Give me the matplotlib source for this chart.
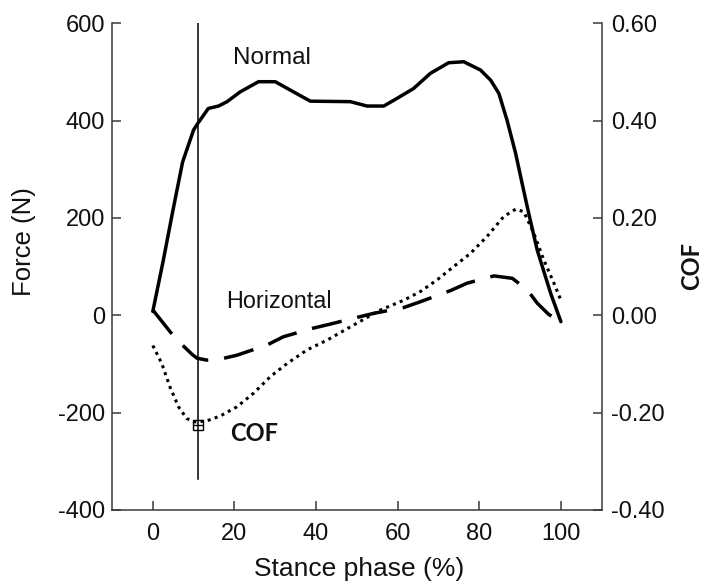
import matplotlib
matplotlib.use("Agg")
import matplotlib.pyplot as plt

plt.rcParams['font.family'] = ['Liberation Sans', 'DejaVu Sans']
plt.rcParams['axes.unicode_minus'] = False

# Normal force (N)
normal_x = [0, 2.5, 4.8, 7.3, 10, 11, 13.6, 16.1, 18.2, 21.4, 25.9, 30, 34.5, 38.6,
            48.4, 52.5, 56.6, 59.9, 63.9, 68, 72.5, 76.2, 80.3, 82.8, 84.8, 86.8,
            88.9, 90.5, 92.1, 94.2, 97.5, 100]
normal_y = [8, 110, 210, 315, 381, 394, 425, 430, 439, 459, 480, 480, 459, 440,
            439, 430, 430, 446, 466, 497, 519, 521, 504, 483, 456, 401,
            333, 271, 210, 134, 45, -13]

# Horizontal force (N)
horiz_x = [0, 5.5, 9.6, 10.8, 13.2, 16.5, 20.6, 28, 32, 39, 43.5, 49.2, 54.1,
           61.5, 65.6, 73, 77, 83.6, 88.1, 91.8, 94.2, 97, 100]
horiz_y = [11, -47, -80, -88, -92, -90, -82, -61, -44, -27, -18, -6, 4,
           16, 28, 51, 66, 81, 76, 52, 25, 2, -13]

# Coefficient of friction
cof_x = [0, 2.2, 4.2, 6.3, 8.3, 10.4, 13.2, 16.5, 20.6, 24.7, 28.8, 32.9, 37.8,
         42.7, 49.2, 55.8, 61.5, 65.6, 69.7, 73.7, 77.8, 81.9, 86, 88.9, 90.9,
         93.4, 95.8, 98.3, 100]
cof_y = [-0.062, -0.099, -0.147, -0.188, -0.212, -0.219, -0.217, -0.207, -0.188,
         -0.160, -0.126, -0.099, -0.071, -0.051, -0.020, 0.011, 0.031, 0.049,
         0.073, 0.100, 0.127, 0.162, 0.203, 0.218, 0.213, 0.168, 0.114, 0.066, 0.031]

vline_x = 11
vline_y = [-336, 600]
cof_mark_x = 11
cof_mark_y = -0.225

force_ticks = [-400, -200, 0, 200, 400, 600]
cof_ticks = [-0.40, -0.20, 0.00, 0.20, 0.40, 0.60]
cof_tick_labels = ['-0.40', '-0.20', '0.00', '0.20', '0.40', '0.60']
x_ticks = [0, 20, 40, 60, 80, 100]

W, H = 702, 582
fig = plt.figure(figsize=(W / 100, H / 100), dpi=100)
left, right, bottom, top = 112 / W, 601.7 / W, 1 - 510 / H, 1 - 23.3 / H
ax = fig.add_axes([left, bottom, right - left, top - bottom])
ax2 = ax.twinx()

ink = 'black'
ax.plot(normal_x, normal_y, color=ink, lw=2.5, solid_capstyle='round',
        solid_joinstyle='round')
ax.plot(horiz_x, horiz_y, color=ink, lw=2.5, dashes=(8.8, 4.6))
ax.plot([vline_x, vline_x], vline_y, color=ink, lw=1.1)
ax2.plot(cof_x, cof_y, color=ink, lw=2.2, linestyle=(0, (1, 1.4)))
ax2.plot([cof_mark_x], [cof_mark_y], marker='s', ms=7.5, mfc='none', mec=ink, mew=1.0)
ax2.plot([cof_mark_x], [cof_mark_y], marker='_', ms=7.5, mec=ink, mew=1.0)

ax.set_xlim(-10, 110)
ax.set_ylim(-400, 600)
ax2.set_ylim(-0.4, 0.6)

spine_c = '#3a3a3a'
for a in (ax, ax2):
    a.spines['top'].set_visible(False)
    for s in a.spines.values():
        s.set_linewidth(1.1)
        s.set_color(spine_c)
ax2.spines['left'].set_visible(False)
ax2.spines['bottom'].set_visible(False)
ax.spines['right'].set_visible(False)

ax.set_xticks(x_ticks)
ax.set_yticks(force_ticks)
ax2.set_yticks(cof_ticks)
ax2.set_yticklabels(cof_tick_labels)

ax.tick_params(axis='both', direction='in', length=6.5, width=1.1, color=spine_c,
               labelsize=17, labelcolor='#111111')
ax.tick_params(axis='y', pad=5)
ax.tick_params(axis='x', pad=9)
ax2.tick_params(axis='y', direction='in', length=6.5, width=1.1, color=spine_c,
                labelsize=17, labelcolor='#111111', pad=6.5)

ax.text(19.7, 529, 'Normal', fontsize=17.5, ha='left', va='center', color='#111111')
ax.text(18, 28, 'Horizontal', fontsize=16.8, ha='left', va='center', color='#111111')
ax.text(19, -242, 'COF', fontsize=17, ha='left', va='center', fontweight='bold',
        family=['Lato', 'DejaVu Sans'], color='#111111')

fig.text(24 / W, 1 - 242 / H, 'Force (N)', rotation=90, ha='center', va='center',
         fontsize=18.5, color='#111111')
fig.text(359.5 / W, 1 - 569 / H, 'Stance phase (%)', ha='center', va='center',
         fontsize=19, color='#111111')
fig.text(692 / W, 1 - 265.6 / H, 'COF', rotation=90, ha='center', va='center',
         fontsize=17, fontweight='bold', family=['Lato', 'DejaVu Sans'], color='#111111')

fig.savefig('out.png', dpi=100)
